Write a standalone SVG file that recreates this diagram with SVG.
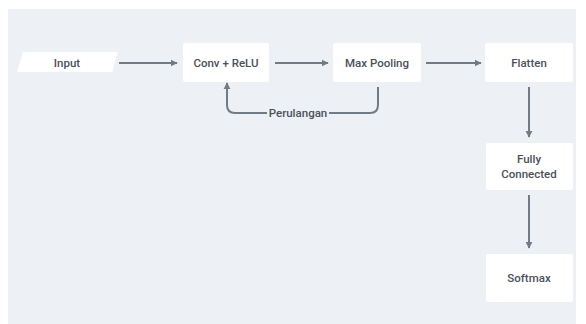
<svg xmlns="http://www.w3.org/2000/svg" width="586" height="324" viewBox="0 0 586 324">
<defs>
<style>
.box{fill:#ffffff;}
.lbl{font-family:Roboto,"Noto Sans",sans-serif;font-size:11.5px;font-weight:500;fill:#4b5058;text-anchor:middle;dominant-baseline:central;}
.con{fill:none;stroke:#717b86;stroke-width:2;}
</style>
<marker id="ah" viewBox="0 0 10 10" refX="9" refY="5" markerWidth="3.6" markerHeight="3.6" orient="auto" markerUnits="strokeWidth">
<path d="M0,0 L10,5 L0,10 z" fill="#717b86"/>
</marker>
</defs>
<rect x="0" y="0" width="586" height="324" fill="#ffffff"/>
<rect x="8" y="9" width="568" height="315" fill="#edf1f5"/>
<g id="input">
<polygon class="box" points="23,52 118,52 112,72 17,72"/>
<text class="lbl" x="67" y="63">Input</text>
</g>
<g id="conv">
<rect class="box" x="183" y="43" width="86" height="39" rx="2"/>
<text class="lbl" x="226" y="63">Conv + ReLU</text>
</g>
<g id="maxpool">
<rect class="box" x="333" y="43" width="88" height="39" rx="2"/>
<text class="lbl" x="377" y="63">Max Pooling</text>
</g>
<g id="flatten">
<rect class="box" x="485" y="43" width="88" height="39" rx="2"/>
<text class="lbl" x="529" y="63">Flatten</text>
</g>
<g id="fc">
<rect class="box" x="486" y="143" width="87" height="47" rx="2"/>
<text class="lbl" x="529" y="159">Fully</text>
<text class="lbl" x="529" y="174">Connected</text>
</g>
<g id="softmax">
<rect class="box" x="486" y="254" width="87" height="48" rx="2"/>
<text class="lbl" x="529" y="278">Softmax</text>
</g>
<g id="connectors">
<line class="con" x1="119" y1="63" x2="177" y2="63" marker-end="url(#ah)"/>
<line class="con" x1="275" y1="63" x2="328" y2="63" marker-end="url(#ah)"/>
<line class="con" x1="426" y1="63" x2="481" y2="63" marker-end="url(#ah)"/>
<line class="con" x1="529" y1="87" x2="529" y2="137" marker-end="url(#ah)"/>
<line class="con" x1="529" y1="195" x2="529" y2="248" marker-end="url(#ah)"/>
<path class="con" d="M378,87 V105 Q378,113 370,113 H329"/>
<path class="con" d="M267,113 H235 Q227,113 227,105 V83" marker-end="url(#ah)"/>
<text class="lbl" x="298" y="113">Perulangan</text>
</g>
</svg>
